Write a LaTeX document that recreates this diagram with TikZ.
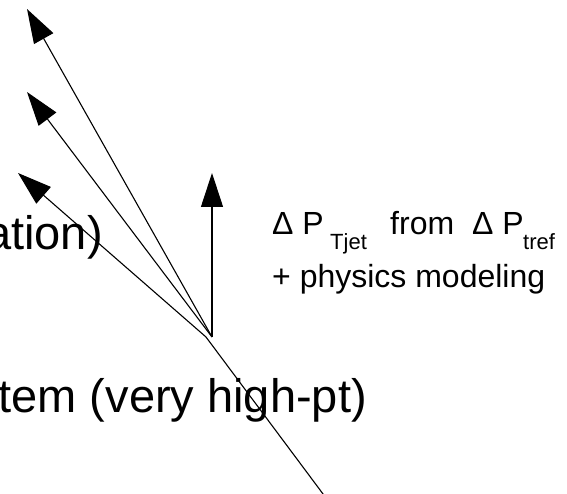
\documentclass[tikz,border=0pt]{standalone}
\usepackage{fontspec}
\setmainfont{Liberation Sans}
\usetikzlibrary{arrows.meta}
\begin{document}
\begin{tikzpicture}[x=1pt,y=-1pt,
  vec/.style={line width=1.1pt,-{Triangle[length=34pt,width=22pt]}},
  ray/.style={line width=1.1pt},
  big/.style={font=\fontsize{47}{56}\selectfont,inner sep=0pt,anchor=base east},
  mid/.style={font=\fontsize{32}{38}\selectfont,inner sep=0pt,anchor=base west},
  sub/.style={font=\fontsize{22}{26}\selectfont,inner sep=0pt,anchor=base west}]
\useasboundingbox (0,0) rectangle (567,494);
\coordinate (v1) at (212,337);
\coordinate (v2) at (206,337);
\coordinate (t1) at (27,9);
\coordinate (t2) at (27,92);
\coordinate (t3) at (18,173);
\coordinate (t4) at (212,173);
\coordinate (e) at (330.5,504);
% text
\node[big] (l1) at (103,250) {ation)};
\node[big] (l2) at (367,412) {tem (very high-pt)};
\node[mid] (d1) at (272,235) {Δ P};
\node[sub] (s1) at (330,250) {Tjet};
\node[mid] (fr) at (390,235) {from};
\node[mid] (d2) at (472,235) {Δ P};
\node[sub] (s2) at (523,250) {tref};
\node[mid] (pm) at (272,287) {+ physics modeling};
% vectors
\draw[vec] (v1) -- (t1);
\draw[vec] (v1) -- (t2);
\draw[vec] (v2) -- (t3);
\draw[vec] (v1) -- (t4);
\draw[ray] (v2) -- (e);
\end{tikzpicture}
\end{document}
